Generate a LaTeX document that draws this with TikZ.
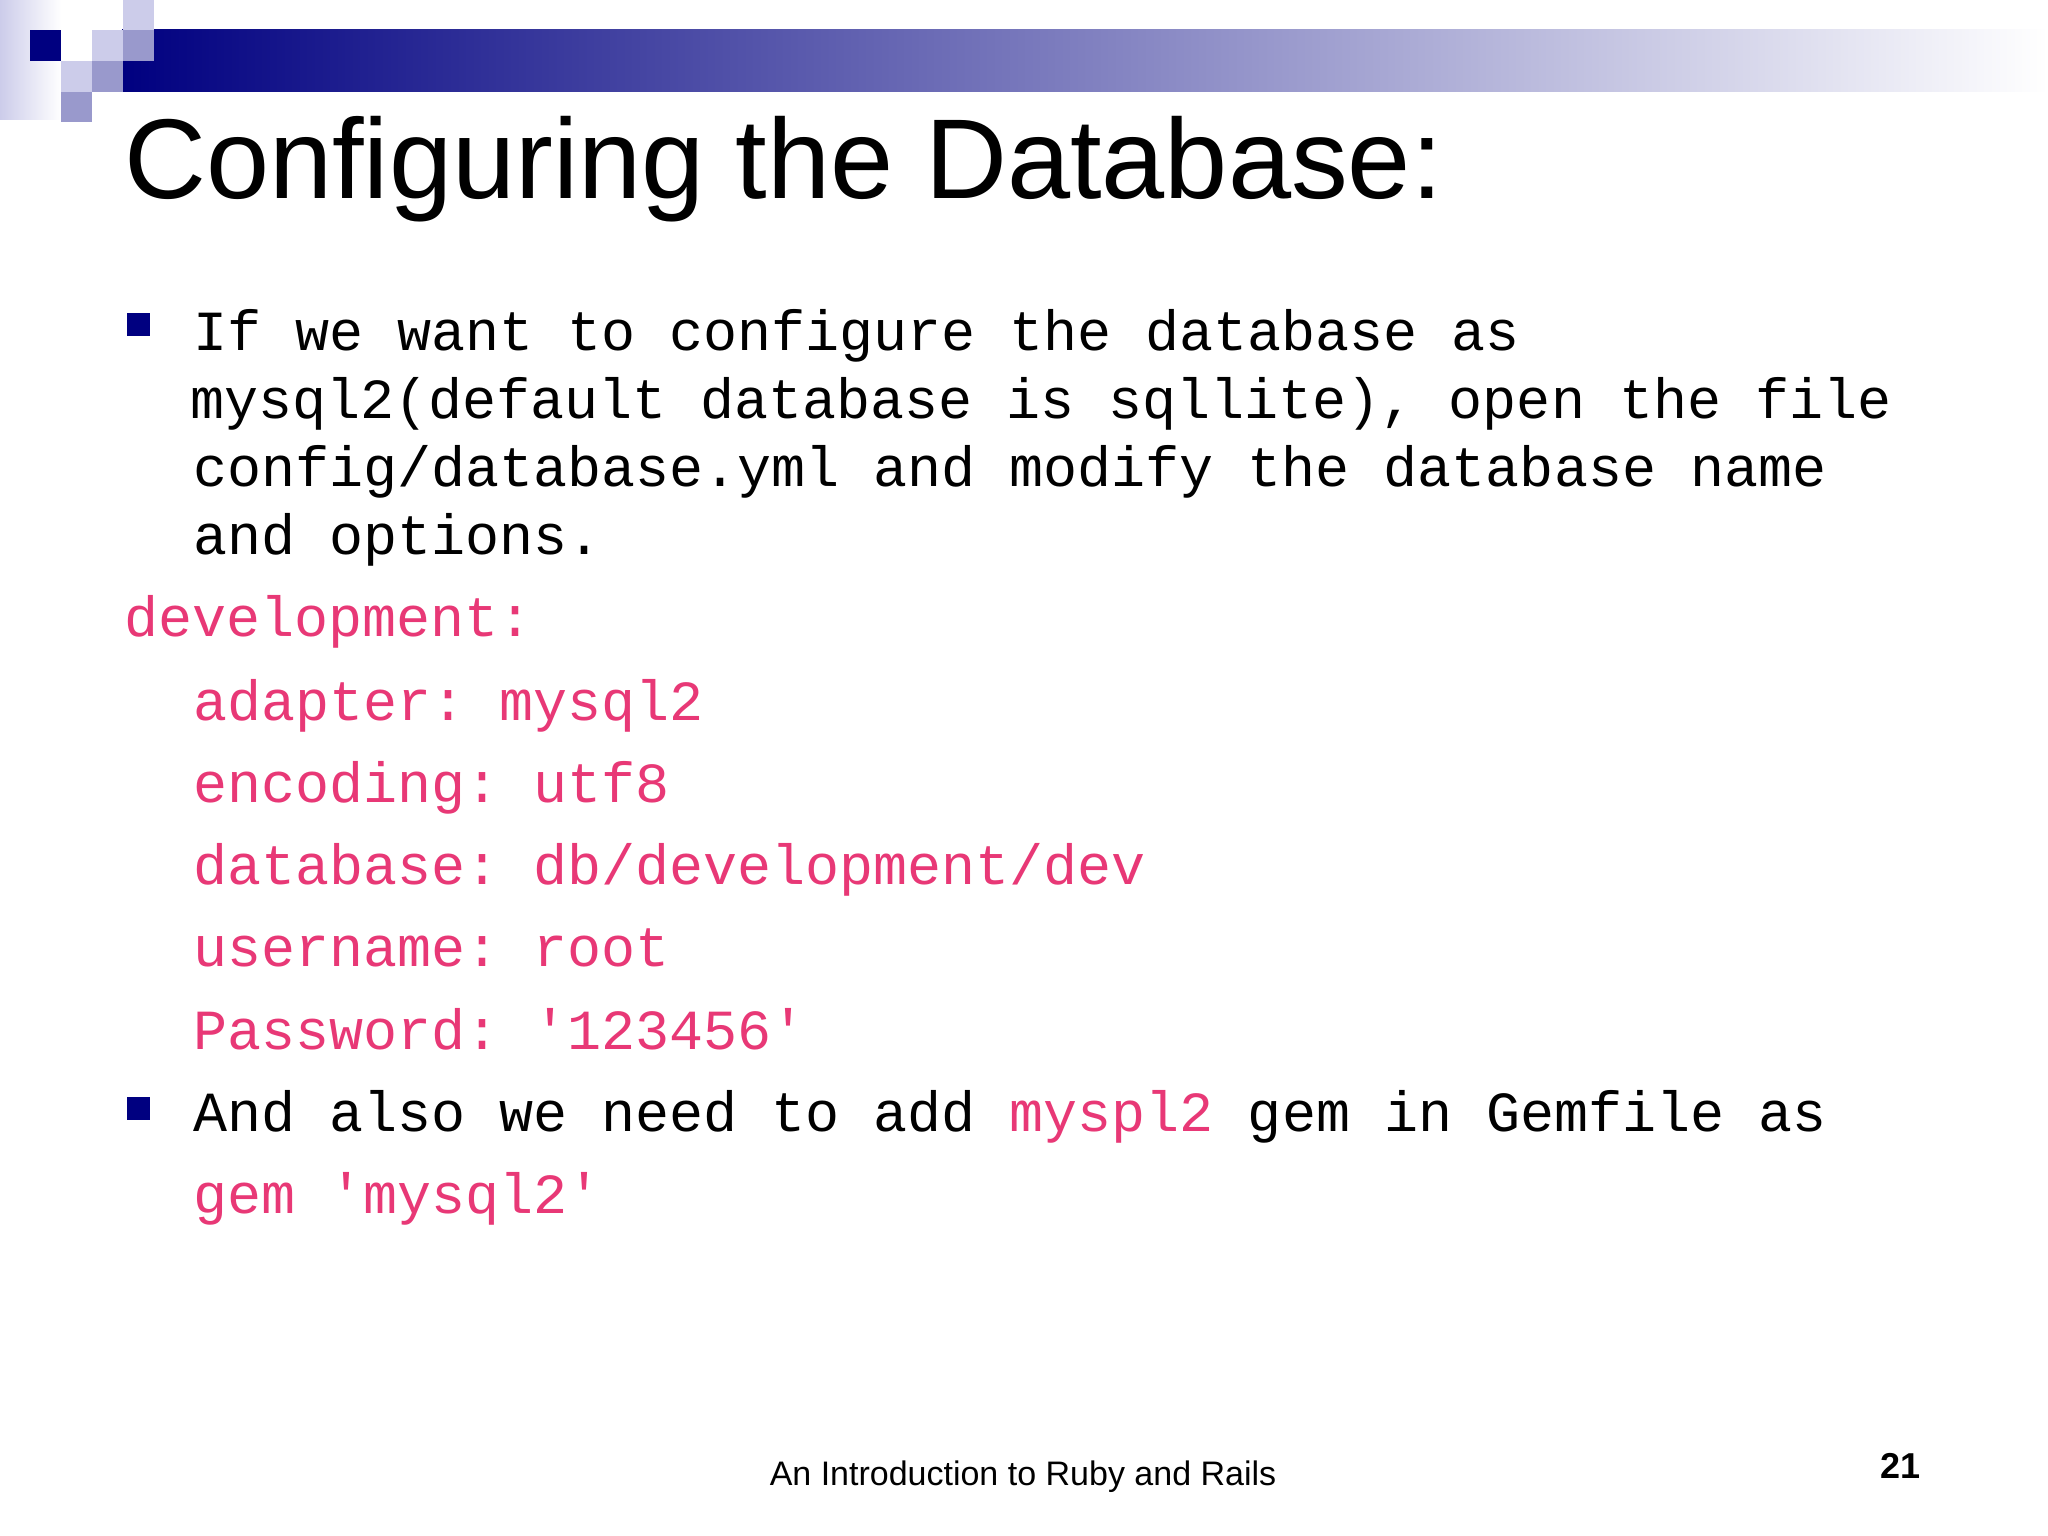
\documentclass[tikz,border=0pt]{standalone}
\usepackage{fontspec}
\setmainfont{Liberation Sans}
\setmonofont{Liberation Mono}
\definecolor{navy}{RGB}{0,0,128}
\definecolor{lav}{RGB}{204,204,234}
\definecolor{lavm}{RGB}{153,153,204}
\definecolor{pink}{RGB}{232,56,118}
\tikzset{txt/.style={anchor=base west,inner sep=0pt,font=\fontsize{56.7}{68}\selectfont\ttfamily},
pk/.style={txt,text=pink},
bul/.style={fill=navy,draw=none}}
\begin{document}
\begin{tikzpicture}[x=1pt,y=-1pt]
\useasboundingbox (0,0) rectangle (2048,1536);
\fill[white] (0,0) rectangle (2048,1536);
\shade[left color=lav,right color=white] (0,0) rectangle (61,120);
\shade[left color=navy,right color=white] (122,30) rectangle (2048,92);
\fill[navy] (30,30) rectangle (61,61);
\fill[lav] (92,30) rectangle (123,61);
\fill[lavm] (123,30) rectangle (154,61);
\fill[lav] (123,0) rectangle (154,30);
\fill[lav] (61,61) rectangle (92,92);
\fill[lavm] (92,61) rectangle (123,92);
\fill[lavm] (61,92) rectangle (92,122);
\node[anchor=base west,inner sep=0pt,font=\fontsize{113.5}{120}\selectfont] (title) at (124,198) {Configuring the Database:};
\fill[bul] (127,313) rectangle (150,336);
\node[txt] (l1) at (193,350) {If we want to configure the database as};
\node[txt] (l2) at (190,418) {mysql2(default database is sqllite), open the file};
\node[txt] (l3) at (193,486) {config/database.yml and modify the database name};
\node[txt] (l4) at (193,554) {and options.};
\node[pk] (d0) at (124,636) {development:};
\node[pk] (d1) at (193,720) {adapter: mysql2};
\node[pk] (d2) at (193,802) {encoding: utf8};
\node[pk] (d3) at (193,884) {database: db/development/dev};
\node[pk] (d4) at (193,966) {username: root};
\node[pk] (d5) at (193,1049) {Password: '123456'};
\fill[bul] (127,1097) rectangle (150,1120);
\node[txt] (b2) at (193,1131) {And also we need to add \textcolor{pink}{myspl2} gem in Gemfile as};
\node[pk] (g) at (193,1213) {gem 'mysql2'};
\node[anchor=base,inner sep=0pt,font=\fontsize{34}{38}\selectfont] (foot) at (1023,1485) {An Introduction to Ruby and Rails};
\node[anchor=base east,inner sep=0pt,font=\fontsize{36}{40}\selectfont\bfseries] (num) at (1921,1478) {21};
\end{tikzpicture}
\end{document}
